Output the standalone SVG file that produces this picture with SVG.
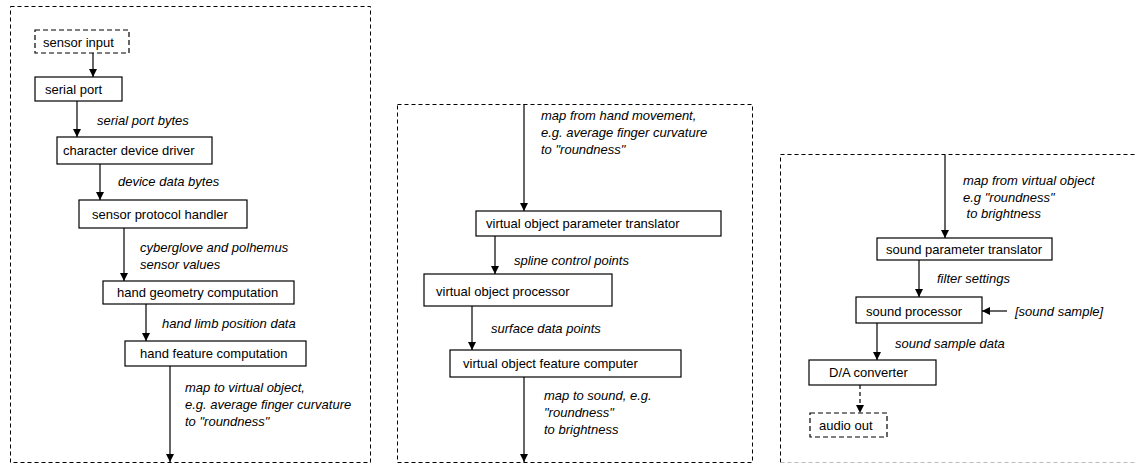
<svg xmlns="http://www.w3.org/2000/svg" width="1137" height="466" viewBox="0 0 1137 466">
  <style>
    .panel { fill: none; stroke: #000; stroke-width: 1; stroke-dasharray: 4 3; }
    .panel-faint { fill: none; stroke: #bbb; stroke-width: 1; stroke-dasharray: 4 3; }
    .box { fill: #fff; stroke: #000; stroke-width: 1.2; }
    .box-dash { fill: #fff; stroke: #000; stroke-width: 1.2; stroke-dasharray: 5 3; }
    .lbl { font-family: "Liberation Sans", Arial, sans-serif; font-size: 13px; fill: #000; }
    .note { font-family: "Liberation Sans", Arial, sans-serif; font-size: 13px; font-style: italic; fill: #000; }
    .edge { fill: none; stroke: #000; stroke-width: 1.2; marker-end: url(#arrow); }
    .edge-dash { fill: none; stroke: #000; stroke-width: 1.2; stroke-dasharray: 4 3; marker-end: url(#arrow); }
  </style>
  <defs>
    <marker id="arrow" viewBox="0 0 8 10" refX="8" refY="5" markerWidth="8" markerHeight="10" markerUnits="userSpaceOnUse" orient="auto">
      <path d="M0,1 L8,5 L0,9 Z" fill="#000"/>
    </marker>
  </defs>
  <rect width="1137" height="466" fill="#fff"/>

  <!-- module frames -->
  <g id="frames">
    <rect class="panel" x="10.5" y="6.5" width="360" height="456"/>
    <rect class="panel" x="397.5" y="104.5" width="355" height="358"/>
    <path class="panel" d="M780.5,462.5 V154.5 H1140"/>
    <path class="panel-faint" d="M780.5,462.5 H1140"/>
  </g>

  <!-- connectors -->
  <g id="connectors">
    <line class="edge" x1="93" y1="53" x2="93" y2="77"/>
    <line class="edge" x1="77" y1="101" x2="77" y2="137"/>
    <line class="edge" x1="100" y1="164" x2="100" y2="200"/>
    <line class="edge" x1="124" y1="228" x2="124" y2="281"/>
    <line class="edge" x1="146" y1="304" x2="146" y2="341"/>
    <line class="edge" x1="170" y1="366" x2="170" y2="462"/>

    <line class="edge" x1="524" y1="104" x2="524" y2="211"/>
    <line class="edge" x1="495" y1="236" x2="495" y2="274"/>
    <line class="edge" x1="472" y1="306" x2="472" y2="350"/>
    <line class="edge" x1="524" y1="377" x2="524" y2="462"/>

    <line class="edge" x1="945" y1="155" x2="945" y2="238"/>
    <line class="edge" x1="919" y1="260" x2="919" y2="297"/>
    <line class="edge" x1="1007" y1="311" x2="982" y2="311"/>
    <line class="edge" x1="877" y1="323" x2="877" y2="360"/>
    <line class="edge-dash" x1="860" y1="385" x2="860" y2="413"/>

    <!-- edge labels -->
    <text class="note" x="97" y="125">serial port bytes</text>
    <text class="note" x="118" y="186">device data bytes</text>
    <text class="note" x="140" y="252">cyberglove and polhemus</text>
    <text class="note" x="140" y="269">sensor values</text>
    <text class="note" x="162" y="328">hand limb position data</text>
    <text class="note" x="185" y="392">map to virtual object,</text>
    <text class="note" x="185" y="409">e.g. average finger curvature</text>
    <text class="note" x="185" y="426">to "roundness"</text>

    <text class="note" x="541" y="120">map from hand movement,</text>
    <text class="note" x="541" y="137">e.g. average finger curvature</text>
    <text class="note" x="541" y="154">to "roundness"</text>
    <text class="note" x="514" y="265">spline control points</text>
    <text class="note" x="491" y="333">surface data points</text>
    <text class="note" x="544" y="400">map to sound, e.g.</text>
    <text class="note" x="544" y="417">"roundness"</text>
    <text class="note" x="544" y="434">to brightness</text>

    <text class="note" x="963" y="185">map from virtual object</text>
    <text class="note" x="963" y="202">e.g "roundness"</text>
    <text class="note" x="963" y="218" xml:space="preserve"> to brightness</text>
    <text class="note" x="937" y="283">filter settings</text>
    <text class="note" x="1015" y="316">[sound sample]</text>
    <text class="note" x="895" y="348">sound sample data</text>
  </g>

  <!-- sensing stage -->
  <g id="sensor-input">
    <rect class="box-dash" x="35" y="30" width="94" height="23"/>
    <text class="lbl" x="43" y="47">sensor input</text>
  </g>
  <g id="serial-port">
    <rect class="box" x="35" y="77" width="87" height="24"/>
    <text class="lbl" x="45" y="94">serial port</text>
  </g>
  <g id="character-device-driver">
    <rect class="box" x="57" y="137" width="155" height="27"/>
    <text class="lbl" x="63" y="155">character device driver</text>
  </g>
  <g id="sensor-protocol-handler">
    <rect class="box" x="79" y="200" width="168" height="28"/>
    <text class="lbl" x="92" y="219">sensor protocol handler</text>
  </g>
  <g id="hand-geometry-computation">
    <rect class="box" x="103" y="281" width="191" height="23"/>
    <text class="lbl" x="117" y="297">hand geometry computation</text>
  </g>
  <g id="hand-feature-computation">
    <rect class="box" x="125" y="341" width="181" height="25"/>
    <text class="lbl" x="140" y="358">hand feature computation</text>
  </g>

  <!-- virtual object stage -->
  <g id="virtual-object-parameter-translator">
    <rect class="box" x="476" y="211" width="245" height="25"/>
    <text class="lbl" x="486" y="228">virtual object parameter translator</text>
  </g>
  <g id="virtual-object-processor">
    <rect class="box" x="424" y="274" width="188" height="32"/>
    <text class="lbl" x="436" y="296">virtual object processor</text>
  </g>
  <g id="virtual-object-feature-computer">
    <rect class="box" x="450" y="350" width="231" height="27"/>
    <text class="lbl" x="463" y="368">virtual object feature computer</text>
  </g>

  <!-- sound stage -->
  <g id="sound-parameter-translator">
    <rect class="box" x="877" y="238" width="175" height="22"/>
    <text class="lbl" x="886" y="254">sound parameter translator</text>
  </g>
  <g id="sound-processor">
    <rect class="box" x="856" y="297" width="126" height="26"/>
    <text class="lbl" x="866" y="316">sound processor</text>
  </g>
  <g id="da-converter">
    <rect class="box" x="809" y="360" width="127" height="25"/>
    <text class="lbl" x="829" y="377">D/A converter</text>
  </g>
  <g id="audio-out">
    <rect class="box-dash" x="810" y="413" width="77" height="24"/>
    <text class="lbl" x="819" y="430">audio out</text>
  </g>
</svg>
